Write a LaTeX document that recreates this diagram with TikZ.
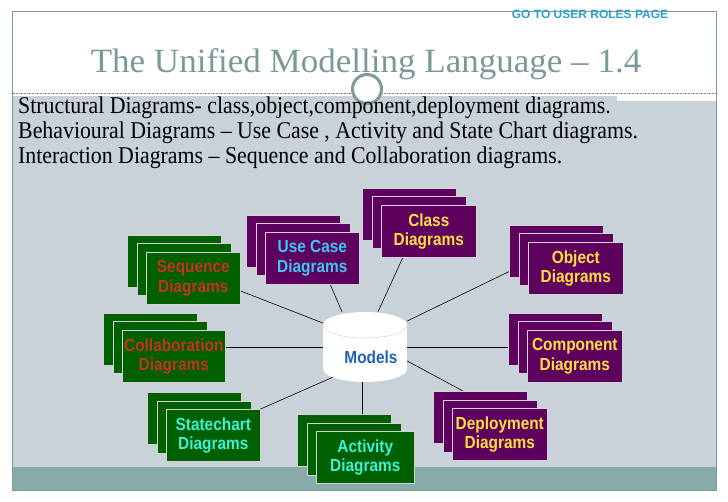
\documentclass[tikz,border=0pt]{standalone}
\usepackage{fontspec}
\setmainfont{Liberation Serif}
\newfontfamily\titlefont[FakeStretch=1.03]{Liberation Serif}
\newfontfamily\bodyfont[FakeStretch=0.91]{Liberation Serif}
\newfontfamily\cardfam[FakeStretch=0.88]{Liberation Sans Bold}
\newfontfamily\linkfam{Liberation Sans Bold}
\usetikzlibrary{calc}
\definecolor{framecol}{HTML}{7F9A9A}
\definecolor{panelcol}{HTML}{C8D2D8}
\definecolor{bandcol}{HTML}{88AAA8}
\definecolor{titlecol}{HTML}{7A9999}
\definecolor{linkcol}{HTML}{2EA0D2}
\definecolor{purplecard}{HTML}{5E005E}
\definecolor{greencard}{HTML}{006000}
\definecolor{cardedge}{HTML}{D4D4D4}
\definecolor{yellowtext}{HTML}{FFE040}
\definecolor{bluetext}{HTML}{3CC8F0}
\definecolor{redtext}{HTML}{C8321E}
\definecolor{aquatext}{HTML}{3CF0D8}
\definecolor{modelsblue}{HTML}{1F63B8}
\definecolor{cylline}{HTML}{D8D8D8}
\pgfdeclarelayer{backdrop}
\pgfdeclarelayer{links}
\pgfsetlayers{backdrop,links,main}
\newcommand\cardfont{\cardfam\fontsize{17.5}{19.5}\selectfont}
\newcommand\cardstack[7]{%
  \node[card,fill=#4,anchor=north west] (#1-b) at (#2-19,#3-17) {};
  \node[card,fill=#4,anchor=north west] (#1-m) at (#2-9.5,#3-8.5) {};
  \node[card,fill=#4,anchor=north west,minimum width=#6pt,text=#5,font=\cardfont] (#1) at (#2,#3) {#7};
}
\begin{document}
\begin{tikzpicture}[x=1pt,y=-1pt,
  card/.style={draw=cardedge,line width=0.6pt,minimum width=94pt,minimum height=52pt,inner sep=0pt,align=center},
  connector/.style={draw=black,line width=0.6pt},
  bodyline/.style={anchor=base west,inner sep=0pt,font=\bodyfont\fontsize{24}{28}\selectfont,text=black}]
\useasboundingbox (0,0) rectangle (728,502);
\begin{pgfonlayer}{backdrop}
  \fill[white] (0,0) rectangle (728,502);
  \fill[panelcol] (12.5,101) rectangle (715.5,467);
  \fill[panelcol] (12.5,96) rectangle (617,101);
  \fill[bandcol] (12.5,467) rectangle (715.5,490);
  \draw[framecol,line width=1pt] (12,12) rectangle (716,490);
  \draw[gray,densely dotted,line width=0.6pt] (12.5,93) -- (715.5,93);
\end{pgfonlayer}
\draw[framecol,line width=3pt,fill=white] (367,89) circle[radius=14.5pt];
\node[font=\linkfam\fontsize{12}{14}\selectfont,text=linkcol,inner sep=0pt] (golink) at (590,14) {GO TO USER ROLES PAGE};
\node[font=\titlefont\fontsize{34}{40}\selectfont,text=titlecol,anchor=base,inner sep=0pt] (title) at (366,73) {The Unified Modelling Language – 1.4};
\node[bodyline] (line1) at (18,114) {Structural Diagrams- class,object,component,deployment diagrams.};
\node[bodyline] (line2) at (18,139) {Behavioural Diagrams – Use Case , Activity and State Chart diagrams.};
\node[bodyline] (line3) at (18,164) {Interaction Diagrams – Sequence and Collaboration diagrams.};
% stacks
\cardstack{class}{381}{205}{purplecard}{yellowtext}{95}{Class\\Diagrams}
\cardstack{obj}{528}{242}{purplecard}{yellowtext}{95}{Object\\Diagrams}
\cardstack{uc}{265}{232}{purplecard}{bluetext}{94}{Use Case\\Diagrams}
\cardstack{seq}{146}{252}{greencard}{redtext}{94}{Sequence\\Diagrams}
\cardstack{col}{122}{330}{greencard}{redtext}{103}{Collaboration\\Diagrams}
\cardstack{st}{166}{409}{greencard}{aquatext}{94}{Statechart\\Diagrams}
\cardstack{act}{316}{431}{greencard}{aquatext}{98}{Activity\\Diagrams}
\cardstack{dep}{452}{408}{purplecard}{yellowtext}{95}{Deployment\\Diagrams}
\cardstack{comp}{527}{330}{purplecard}{yellowtext}{95}{Component\\Diagrams}
% models cylinder
\node[minimum width=84pt,minimum height=70pt,inner sep=0pt] (models) at (365,347) {};
\fill[white] (323,325) rectangle (407,369);
\fill[white] (365,369) ellipse[x radius=42pt,y radius=13pt];
\fill[white] (365,325) ellipse[x radius=42pt,y radius=13pt];
\draw[cylline,line width=0.6pt] (323,325) arc[start angle=180,end angle=360,x radius=42pt,y radius=13pt];
\node[font=\cardfont,text=modelsblue,inner sep=0pt] (modelstext) at (371,357) {Models};
% connectors
\begin{pgfonlayer}{links}
  \draw[connector] (seq.-15) -- ($(models.west)+(0,-24)$);
  \draw[connector] ($(uc.south)+(18,0)$) -- ($(models.north)+(-23,0)$);
  \draw[connector] ($(class.south)+(-26,0)$) -- ($(models.north)+(13,0)$);
  \draw[connector] ($(obj-b.south west)+(0,-6)$) -- ($(models.east)+(0,-26)$);
  \draw[connector] (models.east) -- (models.east -| comp-b.west);
  \draw[connector] ($(models.east)+(0,14)$) -- ($(dep-b.north west)+(30,0)$);
  \draw[connector] ($(models.south)+(-3,0)$) coordinate (actstart) -- (actstart |- act-b.north);
  \draw[connector] ($(models.south west)+(10,-5)$) -- (st.north east);
  \draw[connector] (models.west) -- (models.west -| col.east);
\end{pgfonlayer}
\end{tikzpicture}
\end{document}
